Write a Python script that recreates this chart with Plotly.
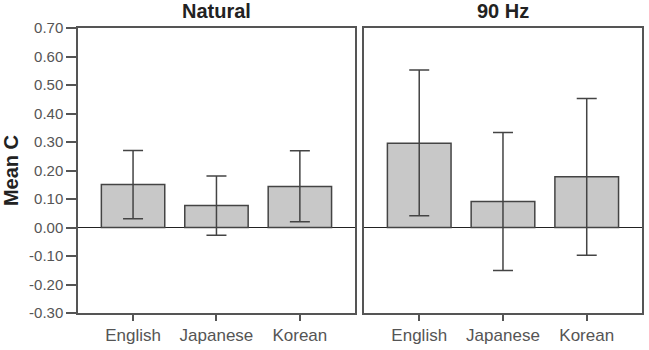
import plotly.graph_objects as go

categories = ["English", "Japanese", "Korean"]
panels = ["Natural", "90 Hz"]
natural_mean = [0.151, 0.077, 0.144]
natural_upper = [0.270, 0.181, 0.269]
natural_lower = [0.031, -0.027, 0.020]
hz90_mean = [0.296, 0.091, 0.178]
hz90_upper = [0.553, 0.333, 0.453]
hz90_lower = [0.041, -0.151, -0.097]
y_ticks = [0.70, 0.60, 0.50, 0.40, 0.30, 0.20, 0.10, 0.00, -0.10, -0.20, -0.30]

FONT = "Liberation Sans, Arial, sans-serif"

fig = go.Figure()
series = [(natural_mean, natural_upper, natural_lower, "x", "y"),
          (hz90_mean, hz90_upper, hz90_lower, "x2", "y2")]
for mean, up, lo, xa, ya in series:
    fig.add_trace(go.Bar(
        x=categories, y=mean, xaxis=xa, yaxis=ya, width=0.76,
        marker=dict(color="#c8c8c8", line=dict(color="#444444", width=1.5)),
        error_y=dict(type="data", symmetric=False,
                     array=[u - m for u, m in zip(up, mean)],
                     arrayminus=[m - l for m, l in zip(mean, lo)],
                     color="#444444", thickness=1.5, width=10),
        showlegend=False,
    ))

xtickfont = dict(family=FONT, size=17, color="#555555")
ytickfont = dict(family=FONT, size=15, color="#555555")
common_x = dict(range=[-0.66, 2.66], showline=True, linecolor="#555555", linewidth=1.5,
                mirror=True, ticks="outside", ticklen=6, tickcolor="#555555", tickwidth=1.5,
                tickfont=xtickfont, showgrid=False, zeroline=False, fixedrange=True)
common_y = dict(range=[-0.30, 0.70], showline=True, linecolor="#555555", linewidth=1.5,
                mirror=True, showgrid=False, zeroline=True, zerolinecolor="#222222",
                zerolinewidth=1.2, tickvals=y_ticks, ticktext=[f"{v:.2f}" for v in y_ticks])

fig.update_layout(
    width=649, height=350,
    margin=dict(l=78, r=5, t=28, b=37),
    paper_bgcolor="white", plot_bgcolor="white",
    xaxis=dict(domain=[0, 0.491], anchor="y", **common_x),
    xaxis2=dict(domain=[0.507, 1], anchor="y2", **common_x),
    yaxis=dict(anchor="x", ticks="outside", ticklen=10, tickcolor="#555555", tickwidth=1.5,
               tickfont=ytickfont,
               title=dict(text="<b>Mean C</b>", standoff=8,
                          font=dict(family=FONT, size=20, color="#222222")),
               **common_y),
    yaxis2=dict(anchor="x2", showticklabels=False, ticks="", **common_y),
    annotations=[
        dict(text=f"<b>{p}</b>", xref=f"{xr} domain", yref="paper", x=0.5, y=1.0,
             yshift=4, yanchor="bottom", showarrow=False,
             font=dict(family=FONT, size=20, color="#222222"))
        for p, xr in zip(panels, ["x", "x2"])
    ],
)

fig.write_html("out.html")
